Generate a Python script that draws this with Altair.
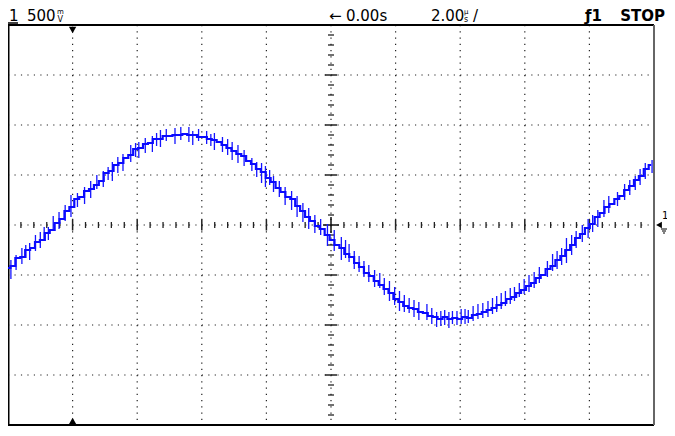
import altair as alt
import pandas as pd

T0 = -10.0          # s, left edge of screen (10 div x 2 s/div)
DT = 0.152          # s between samples
volts = [
    -0.43, -0.41, -0.33, -0.32, -0.25, -0.23, -0.17, -0.15, -0.08, -0.05,
    0.02, 0.06, 0.14, 0.18, 0.26, 0.28, 0.34, 0.36, 0.40, 0.44,
    0.52, 0.54, 0.60, 0.62, 0.67, 0.70, 0.76, 0.77, 0.81, 0.82,
    0.86, 0.86, 0.89, 0.89, 0.90, 0.90, 0.91, 0.90, 0.90, 0.88,
    0.88, 0.86, 0.85, 0.83, 0.80, 0.77, 0.74, 0.71, 0.69, 0.64,
    0.61, 0.56, 0.53, 0.47, 0.43, 0.37, 0.33, 0.28, 0.26, 0.19,
    0.14, 0.08, 0.04, -0.01, -0.04, -0.10, -0.15, -0.20, -0.23, -0.29,
    -0.32, -0.38, -0.42, -0.48, -0.51, -0.56, -0.60, -0.64, -0.68, -0.74,
    -0.77, -0.81, -0.83, -0.84, -0.87, -0.88, -0.91, -0.92, -0.94, -0.92,
    -0.94, -0.93, -0.94, -0.92, -0.93, -0.90, -0.89, -0.87, -0.85, -0.83,
    -0.80, -0.78, -0.74, -0.72, -0.68, -0.65, -0.61, -0.58, -0.53, -0.50,
    -0.44, -0.41, -0.35, -0.31, -0.25, -0.20, -0.13, -0.09, -0.03, 0.01,
    0.08, 0.12, 0.18, 0.21, 0.26, 0.29, 0.35, 0.39, 0.45, 0.49,
    0.56, 0.60,
]
# noise spikes (vertical glitches on the trace)
spike_t = [-9.91, -9.57, -9.33, -9.00, -8.75, -8.42, -8.23, -8.05, -7.63, -7.44,
           -7.05, -6.77, -6.44, -6.20, -5.95, -5.53, -5.28, -4.83, -4.40, -4.28,
           -3.85, -3.61, -3.36, -3.06, -2.69, -2.45, -2.15, -2.03, -1.78, -1.42,
           -1.05, -0.69, -0.32, -0.11, 0.32, 0.56, 0.87, 1.17, 1.51, 1.81,
           2.12, 2.42, 2.72, 2.97, 3.27, 3.52, 3.76, 4.03, 4.25, 4.55,
           4.86, 5.13, 5.40, 5.68, 5.98, 6.29, 6.86, 7.14, 7.29, 7.59,
           7.96, 8.26, 8.45, 8.87, 9.09, 9.42, 9.73, 9.94,
           -9.75, -9.45, -9.15, -8.88, -8.60, -7.85, -7.25, -6.90, -6.60, -6.05,
           -5.75, -5.40, -5.10, -4.65, -4.10, -3.72, -3.20, -2.88, -2.30, -1.90,
           -1.60, -1.22, -0.87, -0.50, 0.10, 0.45, 0.72, 1.02, 1.35, 1.65,
           1.97, 2.27, 2.57, 3.12, 3.40, 3.65, 3.90, 4.15, 4.40, 4.70,
           5.00, 5.27, 5.55, 5.83, 6.13, 6.45, 6.70, 7.00, 7.45, 7.78,
           8.10, 8.60, 9.25, 9.57]
spike_hi = [-0.35, -0.23, -0.18, -0.07, -0.02, 0.13, 0.20, 0.30, 0.38, 0.44,
            0.54, 0.63, 0.71, 0.80, 0.83, 0.89, 0.95, 0.97, 0.98, 0.94,
            0.94, 0.92, 0.88, 0.83, 0.75, 0.67, 0.62, 0.59, 0.49, 0.38,
            0.29, 0.17, 0.06, 0.01, -0.12, -0.19, -0.31, -0.40, -0.48, -0.56,
            -0.66, -0.73, -0.77, -0.79, -0.87, -0.85, -0.86, -0.84, -0.85, -0.79,
            -0.76, -0.71, -0.66, -0.62, -0.54, -0.47, -0.29, -0.23, -0.13, -0.06,
            0.06, 0.15, 0.25, 0.33, 0.41, 0.49, 0.62, 0.65,
            -0.30, -0.20, -0.10, -0.02, 0.09, 0.32, 0.50, 0.58, 0.68, 0.82,
            0.87, 0.92, 0.96, 0.98, 0.96, 0.91, 0.86, 0.80, 0.63, 0.55,
            0.44, 0.34, 0.22, 0.10, -0.05, -0.15, -0.26, -0.36, -0.45, -0.53,
            -0.62, -0.70, -0.75, -0.83, -0.86, -0.87, -0.86, -0.84, -0.81, -0.78,
            -0.73, -0.68, -0.63, -0.58, -0.50, -0.42, -0.36, -0.26, -0.10, 0.00,
            0.10, 0.29, 0.45, 0.56]
spike_lo = [-0.54, -0.39, -0.35, -0.23, -0.15, -0.04, 0.04, 0.08, 0.21, 0.27,
            0.38, 0.44, 0.54, 0.63, 0.67, 0.73, 0.78, 0.81, 0.83, 0.80,
            0.81, 0.75, 0.73, 0.65, 0.59, 0.54, 0.42, 0.38, 0.33, 0.20,
            0.08, -0.04, -0.10, -0.21, -0.35, -0.37, -0.47, -0.57, -0.63, -0.76,
            -0.86, -0.88, -0.95, -0.95, -1.02, -1.00, -0.99, -0.99, -0.98, -0.94,
            -0.92, -0.87, -0.81, -0.76, -0.69, -0.63, -0.46, -0.40, -0.38, -0.23,
            -0.13, -0.02, 0.08, 0.19, 0.25, 0.35, 0.46, 0.52,
            -0.45, -0.33, -0.26, -0.14, -0.05, 0.18, 0.36, 0.45, 0.52, 0.68,
            0.72, 0.79, 0.84, 0.85, 0.84, 0.79, 0.70, 0.62, 0.48, 0.40,
            0.28, 0.15, 0.03, -0.08, -0.26, -0.33, -0.44, -0.52, -0.62, -0.70,
            -0.80, -0.87, -0.92, -0.99, -1.01, -1.03, -1.00, -0.99, -0.96, -0.93,
            -0.89, -0.84, -0.79, -0.72, -0.67, -0.58, -0.52, -0.44, -0.30, -0.17,
            -0.07, 0.12, 0.30, 0.40]

# ---- screen geometry ----
W, H = 646, 400
FONT = "DejaVu Sans"
xs = alt.Scale(domain=[-10, 10], nice=False, zero=False)
ys = alt.Scale(domain=[-2, 2], nice=False, zero=False)
X = lambda f: alt.X(f, type="quantitative", scale=xs, axis=None)
Y = lambda f: alt.Y(f, type="quantitative", scale=ys, axis=None)

one = pd.DataFrame({"k": [0]})
trace = pd.DataFrame({"t": [T0 + i * DT for i in range(len(volts))], "v": volts})
spikes = pd.DataFrame({"t": spike_t, "hi": spike_hi, "lo": spike_lo})

layers = []

# dotted graticule
hgrid = pd.DataFrame({"v": [-1.5, -1.0, -0.5, 0.0, 0.5, 1.0, 1.5]})
layers.append(alt.Chart(hgrid).mark_rule(strokeDash=[1.2, W / 100 - 1.2], color="#222", strokeWidth=1.2)
              .encode(y=Y("v"), x=alt.value(0), x2=alt.value(W)))
vgrid = pd.DataFrame({"t": [-8, -6, -4, -2, 0, 2, 4, 6, 8]})
layers.append(alt.Chart(vgrid).mark_rule(strokeDash=[1.2, H / 64 - 1.2], color="#222", strokeWidth=1.2)
              .encode(x=X("t"), y=alt.value(0), y2=alt.value(H)))

# centre-line ticks
tmin = [round(-10 + 0.4 * i, 2) for i in range(1, 50)]
tmin = [t for t in tmin if abs(t / 2 - round(t / 2)) > 1e-6]
tmaj = [-8, -6, -4, -2, 2, 4, 6, 8]
vmin = [round(-2 + 0.1 * i, 2) for i in range(1, 40)]
vmin = [v for v in vmin if abs(v / 0.5 - round(v / 0.5)) > 1e-6]
vmaj = [-1.5, -1.0, -0.5, 0.5, 1.0, 1.5]
layers.append(alt.Chart(pd.DataFrame({"t": tmin, "v": [0] * len(tmin)}))
              .mark_tick(orient="vertical", size=6, thickness=1.3, color="#222", opacity=1)
              .encode(x=X("t"), y=Y("v")))
layers.append(alt.Chart(pd.DataFrame({"t": tmaj, "v": [0] * len(tmaj)}))
              .mark_tick(orient="vertical", size=11, thickness=1.5, color="#222", opacity=1)
              .encode(x=X("t"), y=Y("v")))
layers.append(alt.Chart(pd.DataFrame({"t": [0] * len(vmin), "v": vmin}))
              .mark_tick(orient="horizontal", size=6, thickness=1.3, color="#222", opacity=1)
              .encode(x=X("t"), y=Y("v")))
layers.append(alt.Chart(pd.DataFrame({"t": [0] * len(vmaj), "v": vmaj}))
              .mark_tick(orient="horizontal", size=12, thickness=1.5, color="#222", opacity=1)
              .encode(x=X("t"), y=Y("v")))
cross = pd.DataFrame({"t": [0], "v": [0]})
layers.append(alt.Chart(cross).mark_tick(orient="horizontal", size=16, thickness=1.5, color="#111", opacity=1)
              .encode(x=X("t"), y=Y("v")))
layers.append(alt.Chart(cross).mark_tick(orient="vertical", size=16, thickness=1.5, color="#111", opacity=1)
              .encode(x=X("t"), y=Y("v")))

# frame
layers.append(alt.Chart(one).mark_rule(color="black", strokeWidth=2)
              .encode(x=alt.value(0), x2=alt.value(W), y=alt.value(0)))
layers.append(alt.Chart(one).mark_rule(color="black", strokeWidth=2)
              .encode(x=alt.value(0), x2=alt.value(W), y=alt.value(H)))
layers.append(alt.Chart(one).mark_rule(color="black", strokeWidth=2)
              .encode(x=alt.value(0.5), y=alt.value(0), y2=alt.value(H)))
layers.append(alt.Chart(one).mark_rule(color="#666", strokeWidth=2)
              .encode(x=alt.value(W), y=alt.value(0), y2=alt.value(H)))

# trace
layers.append(alt.Chart(spikes).mark_rule(color="#1414ff", strokeWidth=1.3)
              .encode(x=X("t"), y=Y("hi"), y2="lo"))
layers.append(alt.Chart(trace).mark_line(color="#0a0aff", strokeWidth=2.2, interpolate="step")
              .encode(x=X("t"), y=Y("v")))

# trigger / position markers
mk = pd.DataFrame({"t": [-8]})
layers.append(alt.Chart(mk).mark_point(shape="triangle-down", filled=True, size=55, color="black", opacity=1)
              .encode(x=X("t"), y=alt.value(5)))
layers.append(alt.Chart(mk).mark_point(shape="triangle-up", filled=True, size=55, color="black", opacity=1)
              .encode(x=X("t"), y=alt.value(H - 4)))
gnd = pd.DataFrame({"v": [0]})
layers.append(alt.Chart(gnd).mark_point(shape="triangle-left", filled=True, size=45, color="black", opacity=1)
              .encode(x=alt.value(W + 5), y=Y("v")))


def label(txt, x, y, size=15, align="left", weight="normal"):
    return (alt.Chart(one)
            .mark_text(text=txt, align=align, baseline="alphabetic", fontSize=size,
                       font=FONT, fontWeight=weight, color="black")
            .encode(x=alt.value(x), y=alt.value(y)))


BY = -4
layers += [
    label("1", 1, BY),
    label("500", 19, BY),
    label("m", 49, BY - 7, size=7),
    label("V", 49.5, BY + 1, size=8),
    label("←", 321, BY),
    label("0.00s", 338, BY),
    label("2.00", 423, BY),
    label("µ", 456, BY - 7, size=7),
    label("s", 456, BY + 1, size=8),
    label("/", 465, BY),
    label("ƒ1", 577, BY, weight="bold"),
    label("STOP", 657, BY, align="right", weight="bold"),
    label("1", W + 8, H / 2 - 6, size=10),
]
# underline of channel number
layers.append(alt.Chart(one).mark_rule(color="black", strokeWidth=1.5)
              .encode(x=alt.value(0), x2=alt.value(10), y=alt.value(-2)))
# ground symbol beside the channel marker
for dy, half in [(4, 3), (6, 2), (8, 1)]:
    layers.append(alt.Chart(one).mark_rule(color="black", strokeWidth=1)
                  .encode(x=alt.value(W + 10 - half), x2=alt.value(W + 10 + half), y=alt.value(H / 2 + dy)))

chart = (alt.layer(*layers)
         .properties(width=W, height=H, background="white",
                     padding={"left": 0, "top": 17, "right": 13, "bottom": 1},
                     autosize="none")
         .configure_view(stroke=None))

chart.save("out.html", embed_options={"renderer": "svg", "actions": False})
